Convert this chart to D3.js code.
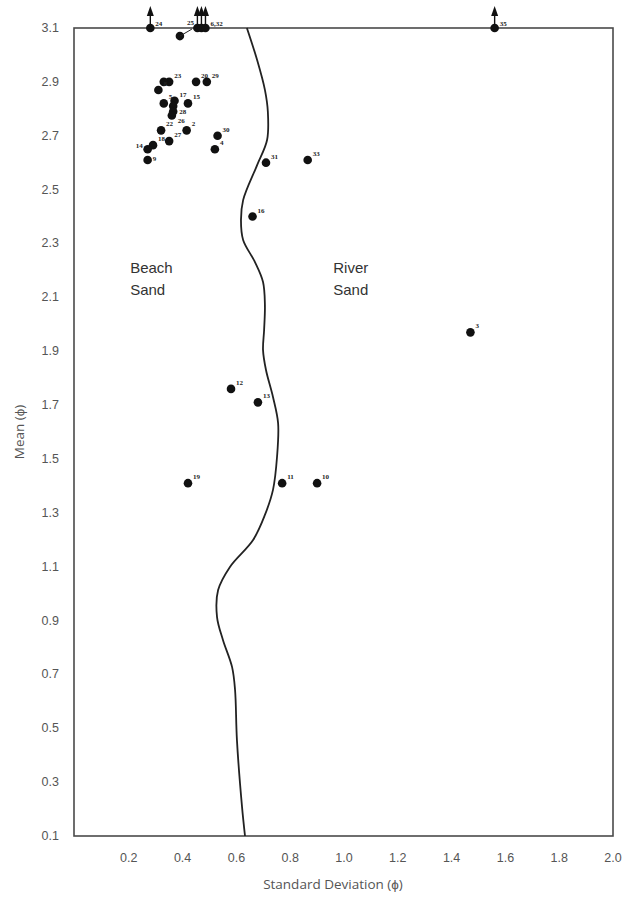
<!DOCTYPE html>
<html>
<head>
<meta charset="utf-8">
<script src="https://cdn.jsdelivr.net/npm/d3@7"></script>
<style>
  html, body { margin: 0; padding: 0; background: #fff; }
  svg { display: block; }
</style>
</head>
<body>
<svg id="chart" width="628" height="898"></svg>
<script>
// Sample statistics: grain-size standard deviation vs. mean (phi units)
const sampleIds   = ["23", "", "20", "29", "8", "5", "17", "15", "", "28", "26", "22", "2", "27", "18", "14", "9", "30", "4", "31", "33", "16", "3", "12", "13", "19", "11", "10", "25"];
const sampleSd    = [0.35, 0.33, 0.45, 0.49, 0.31, 0.33, 0.37, 0.42, 0.365, 0.365, 0.36, 0.32, 0.415, 0.35, 0.29, 0.27, 0.27, 0.53, 0.52, 0.71, 0.865, 0.66, 1.47, 0.58, 0.68, 0.42, 0.77, 0.90, 0.39];
const sampleMean  = [2.90, 2.90, 2.90, 2.90, 2.87, 2.82, 2.83, 2.82, 2.81, 2.79, 2.775, 2.72, 2.72, 2.68, 2.665, 2.65, 2.61, 2.70, 2.65, 2.60, 2.61, 2.40, 1.97, 1.76, 1.71, 1.41, 1.41, 1.41, 3.07];

// Samples whose mean lies above the plotted range (drawn as arrows on the top edge)
const offscaleIds = ["24", "", "", "6,32", "35"];
const offscaleSd  = [0.28, 0.455, 0.47, 0.485, 1.56];

// Beach / river discriminant boundary
const boundarySd   = [0.639, 0.677, 0.706, 0.717, 0.714, 0.677, 0.625, 0.617, 0.625, 0.669, 0.699, 0.706, 0.703, 0.699, 0.710, 0.736, 0.755, 0.751, 0.736, 0.706, 0.662, 0.576, 0.532, 0.528, 0.550, 0.584, 0.595, 0.602, 0.621, 0.632];
const boundaryMean = [3.100, 2.981, 2.870, 2.788, 2.684, 2.591, 2.461, 2.387, 2.313, 2.231, 2.157, 2.071, 1.979, 1.904, 1.830, 1.730, 1.633, 1.507, 1.385, 1.292, 1.199, 1.099, 1.013, 0.913, 0.828, 0.727, 0.642, 0.456, 0.207, 0.100];

const xTicks = [0.2, 0.4, 0.6, 0.8, 1.0, 1.2, 1.4, 1.6, 1.8, 2.0];
const yTicks = [3.1, 2.9, 2.7, 2.5, 2.3, 2.1, 1.9, 1.7, 1.5, 1.3, 1.1, 0.9, 0.7, 0.5, 0.3, 0.1];

const svg = d3.select("#chart");
const plotLeft = 75, plotRight = 613, plotTop = 28, plotBottom = 836;

const x = d3.scaleLinear().domain([0, 2.0]).range([plotLeft, plotRight]);
const y = d3.scaleLinear().domain([0.1, 3.1]).range([plotBottom, plotTop]);

// Frame
svg.append("rect")
  .attr("x", plotLeft - 1).attr("y", plotTop)
  .attr("width", plotRight - plotLeft + 1).attr("height", plotBottom - plotTop)
  .attr("fill", "none").attr("stroke", "#4a4a4a").attr("stroke-width", 1.6);

// Tick labels
const tickFont = "Liberation Sans, Arial, sans-serif";
svg.append("g").selectAll("text").data(xTicks).join("text")
  .attr("x", d => x(d)).attr("y", plotBottom + 26)
  .attr("text-anchor", "middle")
  .attr("font-family", tickFont).attr("font-size", 12.5).attr("fill", "#555")
  .text(d => d.toFixed(1));

svg.append("g").selectAll("text").data(yTicks).join("text")
  .attr("x", plotLeft - 16).attr("y", d => y(d) + 4)
  .attr("text-anchor", "end")
  .attr("font-family", tickFont).attr("font-size", 12.5).attr("fill", "#555")
  .text(d => d.toFixed(1));

// Axis titles
svg.append("text")
  .attr("x", 333).attr("y", 889)
  .attr("text-anchor", "middle")
  .attr("font-family", "Open Sans, sans-serif").attr("font-size", 13.5).attr("fill", "#555")
  .text("Standard Deviation (\u03d5)");

svg.append("text")
  .attr("transform", `translate(24, ${y(1.6)}) rotate(-90)`)
  .attr("text-anchor", "middle")
  .attr("font-family", "Open Sans, sans-serif").attr("font-size", 13.5).attr("fill", "#555")
  .text("Mean (\u03d5)");

// Boundary curve
const boundary = d3.range(boundarySd.length).map(i => [boundarySd[i], boundaryMean[i]]);
svg.append("path")
  .datum(boundary)
  .attr("d", d3.line().x(d => x(d[0])).y(d => y(d[1])).curve(d3.curveCatmullRom.alpha(0.5)))
  .attr("fill", "none").attr("stroke", "#222").attr("stroke-width", 1.8);

// Region labels
const regionFont = "Liberation Sans, Arial, sans-serif";
[["Beach", "Sand", 0.205], ["River", "Sand", 0.96]].forEach(([a, b, sd]) => {
  const t = svg.append("text")
    .attr("font-family", regionFont).attr("font-size", 15).attr("fill", "#333");
  t.append("tspan").attr("x", x(sd)).attr("y", y(2.19)).text(a);
  t.append("tspan").attr("x", x(sd)).attr("y", y(2.11)).text(b);
});

// Sample points
const labelFont = "Liberation Serif, Times New Roman, serif";
const samples = sampleIds.map((id, i) => ({ id, sd: sampleSd[i], mean: sampleMean[i] }));

// label placement relative to the dot: [dx, dy, anchor]
const defaultPlacement = [5, -4, "start"];
const labelPlacement = {
  "14": [-5, -1, "end"],
  "25": [7, -11, "start"],
  "26": [6, 7, "start"],
  "28": [6, 3, "start"],
  "9":  [5, 1, "start"]
};
const place = d => labelPlacement[d.id] || defaultPlacement;

const pts = svg.append("g");
pts.selectAll("circle").data(samples).join("circle")
  .attr("cx", d => x(d.sd)).attr("cy", d => y(d.mean))
  .attr("r", 4.3).attr("fill", "#111");

// leader line for sample 25
const s25 = samples.find(d => d.id === "25");
pts.append("line")
  .attr("x1", x(s25.sd)).attr("y1", y(s25.mean))
  .attr("x2", x(s25.sd) + 12).attr("y2", y(s25.mean) - 7)
  .attr("stroke", "#222").attr("stroke-width", 1);

pts.selectAll("text").data(samples.filter(d => d.id)).join("text")
  .attr("x", d => x(d.sd) + place(d)[0])
  .attr("y", d => y(d.mean) + place(d)[1])
  .attr("text-anchor", d => place(d)[2])
  .attr("font-family", labelFont).attr("font-size", 7).attr("font-weight", "bold").attr("fill", "#222")
  .text(d => d.id);

// Off-scale samples: dot on the top edge with an upward arrow
const offscale = offscaleIds.map((id, i) => ({ id, sd: offscaleSd[i] }));
const arrows = svg.append("g");
arrows.selectAll("line").data(offscale).join("line")
  .attr("x1", d => x(d.sd)).attr("x2", d => x(d.sd))
  .attr("y1", y(3.1)).attr("y2", y(3.1) - 16)
  .attr("stroke", "#111").attr("stroke-width", 1.4);
arrows.selectAll("path").data(offscale).join("path")
  .attr("d", d => {
    const cx = x(d.sd), ty = y(3.1) - 22;
    return `M${cx},${ty} L${cx - 3.5},${ty + 10} L${cx + 3.5},${ty + 10} Z`;
  })
  .attr("fill", "#111");
arrows.selectAll("circle").data(offscale).join("circle")
  .attr("cx", d => x(d.sd)).attr("cy", y(3.1))
  .attr("r", 4.3).attr("fill", "#111");
arrows.selectAll("text").data(offscale.filter(d => d.id)).join("text")
  .attr("x", d => x(d.sd) + 5).attr("y", y(3.1) - 2)
  .attr("font-family", labelFont).attr("font-size", 7).attr("font-weight", "bold").attr("fill", "#222")
  .text(d => d.id);
</script>
</body>
</html>
